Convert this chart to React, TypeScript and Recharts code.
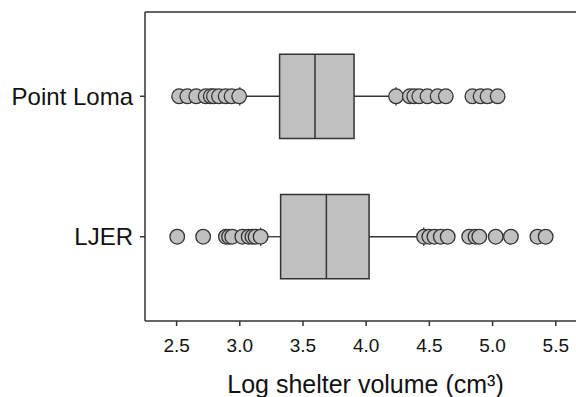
import {
  ComposedChart,
  Scatter,
  XAxis,
  YAxis,
  ReferenceArea,
  ReferenceLine,
  Label,
} from 'recharts';

const categories = ['Point Loma', 'LJER'];
const positions = [1, 0];
const q1 = [3.315, 3.323];
const median = [3.595, 3.685];
const q3 = [3.904, 4.023];
const whiskerLow = [3.0, 3.165];
const whiskerHigh = [4.236, 4.455];

const pointLomaOutliers = [
  2.52, 2.585, 2.655, 2.73, 2.77, 2.795, 2.835, 2.888, 2.935, 2.995,
  4.236, 4.345, 4.38, 4.42, 4.485, 4.565, 4.63, 4.84, 4.905, 4.96, 5.04,
];
const ljerOutliers = [
  2.505, 2.71, 2.89, 2.915, 2.94, 3.02, 3.07, 3.1, 3.125, 3.165,
  4.458, 4.5, 4.54, 4.59, 4.645, 4.815, 4.865, 4.895, 5.025, 5.145, 5.355, 5.42,
];
const outlierSets = [pointLomaOutliers, ljerOutliers];

const xTicks = [2.5, 3.0, 3.5, 4.0, 4.5, 5.0, 5.5];

const FONT = '"Liberation Sans", Arial, sans-serif';
const LINE = '#333';
const FILL = '#c0c0c0';
const BOX_HALF = 0.3;
const CAP_HALF = 0.065;

const Dot = (props: any) => {
  const { cx, cy } = props;
  return <circle cx={cx} cy={cy} r={7.3} fill={FILL} stroke={LINE} strokeWidth={1.3} />;
};

const AxisTitle = (props: any) => {
  const { viewBox } = props;
  const x = viewBox.x + viewBox.width / 2 + 5;
  const y = viewBox.y + viewBox.height - 4;
  return (
    <text x={x} y={y} textAnchor="middle" fontSize={25} fontFamily={FONT} fill="#111">
      Log shelter volume (cm³)
    </text>
  );
};

export default function App() {
  return (
    <div style={{ position: 'absolute', left: 0, top: 0, width: 576, height: 397, overflow: 'hidden', background: '#fff' }}>
      <ComposedChart width={576} height={397} margin={{ top: 12, right: 0, bottom: 0, left: 0 }}>
        <XAxis
          type="number"
          dataKey="x"
          domain={[2.25, 5.66]}
          ticks={xTicks}
          tickFormatter={(v: number) => v.toFixed(1)}
          allowDataOverflow
          height={76}
          tickSize={5}
          tickMargin={13}
          stroke={LINE}
          strokeWidth={1.5}
          tick={{ fill: '#111', fontSize: 19, fontFamily: FONT }}
        >
          <Label content={<AxisTitle />} />
        </XAxis>
        <YAxis
          type="number"
          dataKey="y"
          domain={[-0.6, 1.6]}
          ticks={positions}
          tickFormatter={(v: number) => categories[positions.indexOf(v)]}
          allowDataOverflow
          width={145}
          tickSize={5}
          tickMargin={7}
          stroke={LINE}
          strokeWidth={1.5}
          tick={{ fill: '#111', fontSize: 24, fontFamily: FONT }}
        />
        <ReferenceLine y={1.6} stroke={LINE} strokeWidth={1.5} />

        {positions.map((p, i) => (
          <ReferenceLine
            key={`wl-${i}`}
            segment={[{ x: whiskerLow[i], y: p }, { x: q1[i], y: p }]}
            stroke={LINE}
            strokeWidth={1.3}
          />
        ))}
        {positions.map((p, i) => (
          <ReferenceLine
            key={`wh-${i}`}
            segment={[{ x: q3[i], y: p }, { x: whiskerHigh[i], y: p }]}
            stroke={LINE}
            strokeWidth={1.3}
          />
        ))}
        {positions.map((p, i) => (
          <ReferenceArea
            key={`box-${i}`}
            x1={q1[i]}
            x2={q3[i]}
            y1={p - BOX_HALF}
            y2={p + BOX_HALF}
            fill={FILL}
            fillOpacity={1}
            stroke={LINE}
            strokeWidth={1.5}
          />
        ))}
        {positions.map((p, i) => (
          <ReferenceLine
            key={`med-${i}`}
            segment={[{ x: median[i], y: p - BOX_HALF }, { x: median[i], y: p + BOX_HALF }]}
            stroke={LINE}
            strokeWidth={1.5}
          />
        ))}

        {outlierSets.map((set, i) => (
          <Scatter
            key={`out-${i}`}
            data={set.map((v) => ({ x: v, y: positions[i] }))}
            shape={<Dot />}
            isAnimationActive={false}
          />
        ))}

        {positions.map((p, i) => (
          <ReferenceLine
            key={`capl-${i}`}
            segment={[{ x: whiskerLow[i], y: p - CAP_HALF }, { x: whiskerLow[i], y: p + CAP_HALF }]}
            stroke={LINE}
            strokeWidth={1.3}
          />
        ))}
        {positions.map((p, i) => (
          <ReferenceLine
            key={`caph-${i}`}
            segment={[{ x: whiskerHigh[i], y: p - CAP_HALF }, { x: whiskerHigh[i], y: p + CAP_HALF }]}
            stroke={LINE}
            strokeWidth={1.3}
          />
        ))}
      </ComposedChart>
    </div>
  );
}
